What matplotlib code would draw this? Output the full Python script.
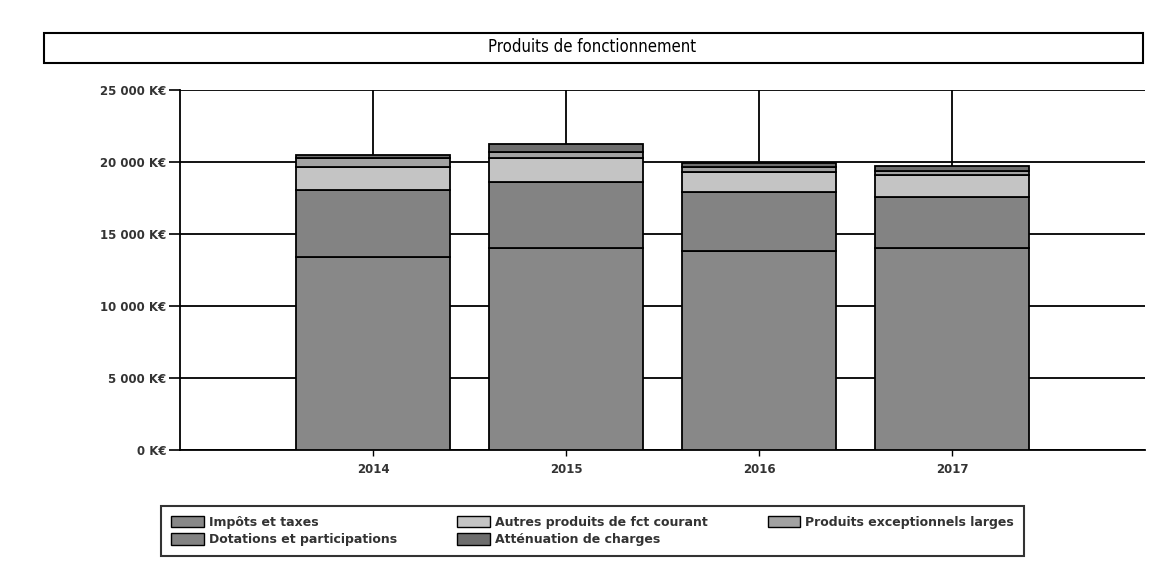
import numpy as np
import matplotlib.pyplot as plt
from matplotlib.patches import Rectangle, Patch

years = ["2014", "2015", "2016", "2017"]

# montants en K€, empilés dans cet ordre (du bas vers le haut)
impots = [13400, 14000, 13800, 14000]
dotations = [4650, 4600, 4100, 3600]
autres = [1600, 1700, 1400, 1500]
exceptionnels = [600, 400, 350, 300]
attenuation = [250, 550, 250, 300]

series = [
    ("Impôts et taxes", impots, "#888888"),
    ("Dotations et participations", dotations, "#838383"),
    ("Autres produits de fct courant", autres, "#c4c4c4"),
    ("Produits exceptionnels larges", exceptionnels, "#a2a2a2"),
    ("Atténuation de charges", attenuation, "#6e6e6e"),
]

fig = plt.figure(figsize=(11.73, 5.67), dpi=100)
ax = fig.add_axes([0.1535, 0.2063, 0.8226, 0.635])

x = np.arange(len(years))
bottom = np.zeros(len(years))
for name, vals, col in series:
    ax.bar(x, vals, 0.8, bottom=bottom, color=col, edgecolor="black",
           linewidth=1.3, zorder=3)
    bottom += np.array(vals)

ax.set_xlim(-1, 4)
ax.set_ylim(0, 25000)
ax.set_yticks(np.arange(0, 25001, 5000))
ax.set_yticklabels([f"{v:,}".replace(",", " ") + " K€" for v in range(0, 25001, 5000)],
                   fontweight="bold")
ax.set_xticks(x)
ax.set_xticklabels(years, fontweight="bold")
ax.tick_params(axis="y", length=8, width=1.2, labelsize=8.5, pad=2, labelcolor="#333333")
ax.tick_params(axis="x", length=4, width=1, labelsize=8.5, pad=5, labelcolor="#333333")

ax.grid(True, color="black", linewidth=1.3, zorder=0)
ax.set_axisbelow(True)
for s in ["top", "right"]:
    ax.spines[s].set_visible(False)
ax.spines["left"].set_linewidth(1.3)
ax.spines["bottom"].set_linewidth(1.3)

# cadre du titre
fig.patches.append(Rectangle((44 / 1173, 1 - 63 / 567), 1099 / 1173, 30 / 567,
                             transform=fig.transFigure, fill=False,
                             edgecolor="black", linewidth=1.5))
fig.text(0.505, 1 - 47 / 567, "Produits de fonctionnement", ha="center",
         va="center", fontsize=12, fontstretch="condensed")

handles = [Patch(facecolor=c, edgecolor="black", label=n) for n, _, c in series]
order = [0, 1, 2, 4, 3]
leg = fig.legend([handles[i] for i in order], [series[i][0] for i in order],
                 ncol=3, loc="center", mode="expand",
                 bbox_to_anchor=(155 / 1173, 4 / 567, 875 / 1173, 64 / 567),
                 prop={"size": 9, "weight": "bold"}, frameon=True,
                 fancybox=False, edgecolor="black",
                 handlelength=2.6, handleheight=1.0, handletextpad=0.4,
                 labelspacing=0.35, borderpad=0.8)
leg.get_frame().set_linewidth(1.5)
for t in leg.get_texts():
    t.set_color("#333333")

fig.savefig("out.png", dpi=100)
